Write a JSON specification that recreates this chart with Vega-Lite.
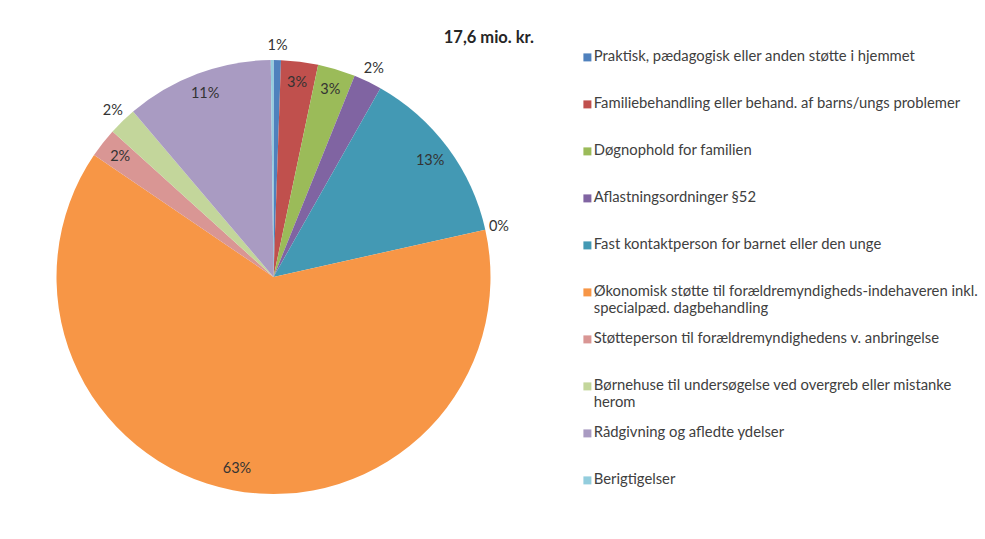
{
  "$schema": "https://vega.github.io/schema/vega-lite/v6.json",
  "width": 547,
  "height": 520,
  "autosize": {"type": "none"},
  "padding": {"left": 0, "top": 17, "right": 438, "bottom": 2},
  "background": "white",
  "view": {"stroke": null},
  "config": {"font": "Lato"},
  "title": {
    "text": "17,6 mio. kr.",
    "anchor": "end",
    "frame": "group",
    "offset": -42,
    "baseline": "alphabetic",
    "dx": -13,
    "fontSize": 16.5,
    "fontWeight": "bold",
    "font": "Lato",
    "color": "#262626"
  },
  "data": {
    "values": [
      {"category": "Praktisk, pædagogisk eller anden støtte i hjemmet", "value": 0.55},
      {"category": "Familiebehandling eller behand. af barns/ungs problemer", "value": 2.75},
      {"category": "Døgnophold for familien", "value": 2.8},
      {"category": "Aflastningsordninger §52", "value": 2.1},
      {"category": "Fast kontaktperson for barnet eller den unge", "value": 13.3},
      {"category": "Økonomisk støtte til forældremyndigheds-indehaveren inkl. specialpæd. dagbehandling", "value": 63.0},
      {"category": "Støtteperson til forældremyndighedens v. anbringelse", "value": 2.2},
      {"category": "Børnehuse til undersøgelse ved overgreb eller mistanke herom", "value": 2.1},
      {"category": "Rådgivning og afledte ydelser", "value": 11.0},
      {"category": "Berigtigelser", "value": 0.2}
    ]
  },
  "transform": [
    {"window": [{"op": "row_number", "as": "idx"}]},
    {"window": [{"op": "sum", "field": "value", "as": "cum"}], "sort": [{"field": "idx"}]},
    {"calculate": "datum.idx <= 5 ? datum.value : 0", "as": "lead"},
    {"joinaggregate": [{"op": "sum", "field": "lead", "as": "leadSum"}]},
    {"calculate": "datum.value < 0.5 ? datum.leadSum : datum.cum - datum.value / 2", "as": "labelTheta"},
    {"calculate": "format(datum.value, '.0f') + '%'", "as": "label"}
  ],
  "layer": [
    {
      "mark": {"type": "arc", "outerRadius": 217},
      "encoding": {
        "theta": {"field": "value", "type": "quantitative", "stack": true, "scale": {"domain": [0, 100]}},
        "order": {"field": "idx", "type": "quantitative"},
        "color": {
          "field": "category",
          "type": "nominal",
          "sort": null,
          "scale": {"range": ["#4F81BD", "#C0504D", "#9BBB59", "#8064A2", "#4399B4", "#F79646", "#D99694", "#C3D69B", "#A99BC2", "#93CDDD"]},
          "legend": {
            "title": null,
            "orient": "none",
            "legendX": 580,
            "legendY": 33,
            "symbolType": "square",
            "symbolSize": 64,
            "symbolStrokeWidth": 0,
            "labelFont": "Lato",
            "labelFontSize": 14.8,
            "labelColor": "#404040",
            "labelLimit": 440,
            "labelOffset": -1,
            "labelLineHeight": 19,
            "rowPadding": 15,
            "labelExpr": "datum.label == 'Økonomisk støtte til forældremyndigheds-indehaveren inkl. specialpæd. dagbehandling' ? ['Økonomisk støtte til forældremyndigheds-indehaveren inkl.', 'specialpæd. dagbehandling'] : datum.label == 'Børnehuse til undersøgelse ved overgreb eller mistanke herom' ? ['Børnehuse til undersøgelse ved overgreb eller mistanke', 'herom'] : [datum.label, '']"
          }
        }
      }
    },
    {
      "transform": [{"filter": "datum.value >= 2.15"}],
      "mark": {"type": "text", "fontSize": 14.5, "font": "Lato", "color": "#333333", "radius": 195},
      "encoding": {
        "theta": {"field": "labelTheta", "type": "quantitative", "stack": null},
        "text": {"field": "label"}
      }
    },
    {
      "transform": [{"filter": "datum.value < 2.15"}],
      "mark": {"type": "text", "fontSize": 14.5, "font": "Lato", "color": "#333333", "radius": 231},
      "encoding": {
        "theta": {"field": "labelTheta", "type": "quantitative", "stack": null},
        "text": {"field": "label"}
      }
    }
  ]
}
